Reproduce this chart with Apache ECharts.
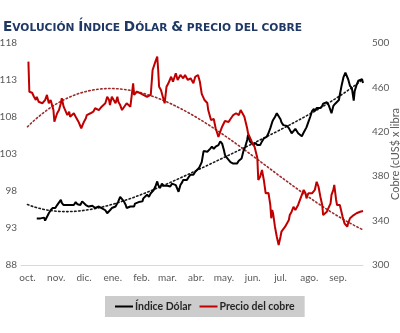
<!DOCTYPE html>
<html><head><meta charset="utf-8">
<script src="https://cdn.jsdelivr.net/npm/echarts@6/dist/echarts.min.js"></script>
<style>html,body{margin:0;padding:0;background:#fff}#c{width:400px;height:333px}</style>
</head><body><div id="c"></div>
<script>
// x values: days since 2021-10-01
const monthLabels = ['oct.','nov.','dic.','ene.','feb.','mar.','abr.','may.','jun.','jul.','ago.','sep.'];
const monthStartDays = [0,31,61,92,123,151,182,212,243,273,304,335];

const dollarDays = [10,12,14,16,18,19,21,23,25,27,28,30,32,34,36,37,39,41,43,45,46,48,50,52,54,55,57,59,61,63,64,66,68,70,71,73,75,77,79,80,82,84,86,88,89,91,93,95,97,98,100,102,104,106,107,109,111,113,115,116,118,120,122,124,125,127,129,131,133,134,136,138,140,141,143,145,147,149,151,152,154,156,158,160,161,163,165,167,168,170,172,174,176,177,179,181,183,185,186,188,190,192,194,195,197,199,201,203,204,206,208,210,212,213,215,217,219,221,222,224,226,228,230,231,233,235,237,238,240,242,244,246,248,249,251,253,255,257,258,260,262,264,265,267,269,271,273,274,276,278,280,282,283,285,287,289,291,292,294,296,298,300,301,303,305,307,309,310,312,314,316,318,319,321,323,325,327,328,330,332,334,336,337,339,341,343,345,346,348,350,352,353,355,357,359,361,362];
const dollarValues = [94.3,94.1,94.3,94.2,94.4,94.0,94.0,95.0,95.4,95.7,95.9,95.7,96.1,96.3,96.8,96.4,96.1,96.3,96.1,96.3,96.1,96.3,96.1,96.5,96.2,96.3,96.1,96.6,96.5,96.1,95.9,95.9,95.9,96.0,95.9,95.7,95.9,95.9,95.9,95.7,95.7,95.4,95.0,95.2,95.4,95.7,95.7,95.9,96.1,96.6,97.2,97.0,96.6,96.1,95.7,95.7,95.9,95.7,95.9,96.3,96.1,96.5,96.4,96.6,97.0,96.8,97.5,97.2,97.7,97.5,98.1,98.6,99.3,98.8,98.4,99.0,98.7,98.6,98.7,98.6,98.6,99.0,98.8,98.8,98.6,97.9,98.8,99.2,99.5,99.7,99.5,99.9,100.2,100.4,100.2,100.6,100.8,101.1,101.1,101.9,103.4,103.5,103.3,103.3,103.7,104.0,103.7,104.0,104.0,104.2,104.7,104.4,103.5,102.9,102.5,102.2,101.9,101.7,101.7,101.9,101.7,102.1,102.2,102.4,103.4,104.0,104.9,105.6,104.7,104.5,104.2,104.5,104.2,104.0,104.2,104.7,105.1,105.3,105.3,105.8,106.5,107.3,107.6,108.0,108.5,108.1,107.7,107.3,106.9,106.8,106.8,106.5,106.5,105.8,105.7,106.4,106.4,105.8,105.9,105.4,105.9,106.0,106.6,107.3,108.0,108.8,109.1,108.8,109.2,109.2,109.2,109.5,109.8,110.0,110.0,109.6,109.6,108.5,109.5,109.8,109.6,110.3,111.0,112.3,113.4,114.0,114.1,113.1,112.2,111.9,110.2,111.5,112.3,112.9,113.1,113.1,112.6];

const copperDays = [1,2,3,5,7,9,10,12,14,16,18,19,21,23,25,27,28,29,32,34,36,37,39,41,43,45,46,48,50,52,54,55,57,58,61,63,64,66,68,70,71,73,75,77,79,80,82,84,86,88,89,91,93,95,97,98,100,102,104,107,111,114,115,118,122,125,129,133,135,138,140,141,142,144,146,148,150,152,155,157,160,162,165,168,170,173,176,179,181,184,186,188,191,194,195,198,201,203,204,206,208,210,212,213,215,217,219,221,222,225,228,230,232,234,237,238,240,242,245,248,249,251,253,255,257,258,260,262,263,264,265,267,269,271,273,274,276,278,280,282,283,285,287,289,291,292,294,296,298,300,301,303,305,307,309,310,312,314,316,318,319,321,323,325,327,328,330,331,333,334,337,339,340,342,343,345,346,348,350,352,353,355,357,359,361,362];
const copperValues = [483.2,456.1,454.7,455.2,451.6,448.6,451.6,447.1,448.6,445.7,444.1,448.6,453.2,445.7,448.6,442.6,439.6,429.1,436.7,439.6,445.7,450.2,442.6,441.2,435.1,438.1,433.6,435.1,436.7,433.6,432.2,429.1,430.6,423.2,429.1,432.2,435.1,435.1,436.7,438.1,438.1,441.2,439.6,439.6,438.1,442.6,441.2,445.7,451.6,448.6,444.1,451.6,448.6,445.7,451.6,447.1,444.1,439.6,438.1,445.7,442.6,463.7,453.2,456.1,454.7,453.2,451.6,453.2,475.7,483.2,487.7,475.7,460.6,457.7,451.6,445.7,460.6,463.7,469.6,465.1,472.7,466.7,471.2,468.2,471.2,466.7,468.2,463.7,469.6,471.2,465.1,454.1,448.6,445.9,439.6,430.6,431.5,423.2,420.7,415.3,420.1,424.6,423.4,429.7,430.6,428.8,431.5,432.2,435.1,436.7,435.1,439.6,438.1,433.6,423.2,418.6,417.1,411.1,406.6,396.4,376.6,379.5,385.6,376.6,364.6,363.1,364.9,354.1,342.1,349.6,346.6,334.5,325.5,318.0,325.5,330.0,331.5,334.5,333.3,340.5,345.0,348.0,352.5,349.6,348.0,354.1,358.6,363.1,367.6,364.6,360.1,364.6,363.1,364.6,366.0,367.6,375.0,370.5,361.5,354.1,345.0,346.6,348.0,349.6,355.6,363.1,367.6,372.1,358.6,354.1,354.1,352.5,343.5,337.6,337.6,334.5,337.6,342.1,340.5,345.0,343.5,346.6,345.0,348.0,349.6,348.6];

const leftAxisRange = [88, 118, 5];
const rightAxisRange = [300, 500, 40];
const seriesNames = ['Índice Dólar', 'Precio del cobre'];
const trendOrders = [4, 3]; // polynomial trendline orders (dólar, cobre)

// Polynomial least-squares trend line, as in the original's trendlines
function polyfit(xs, ys, order) {
  const n = order + 1, A = [], b = [];
  for (let i = 0; i < n; i++) { A.push(new Array(n).fill(0)); b.push(0); }
  xs.forEach((x0, k) => {
    const x = x0 / 365;
    for (let i = 0; i < n; i++) {
      b[i] += ys[k] * Math.pow(x, i);
      for (let j = 0; j < n; j++) A[i][j] += Math.pow(x, i + j);
    }
  });
  for (let c = 0; c < n; c++) {
    let p = c;
    for (let r = c + 1; r < n; r++) if (Math.abs(A[r][c]) > Math.abs(A[p][c])) p = r;
    [A[c], A[p]] = [A[p], A[c]]; [b[c], b[p]] = [b[p], b[c]];
    for (let r = c + 1; r < n; r++) {
      const f = A[r][c] / A[c][c];
      for (let j = c; j < n; j++) A[r][j] -= f * A[c][j];
      b[r] -= f * b[c];
    }
  }
  const coef = new Array(n).fill(0);
  for (let r = n - 1; r >= 0; r--) {
    let s = b[r];
    for (let j = r + 1; j < n; j++) s -= A[r][j] * coef[j];
    coef[r] = s / A[r][r];
  }
  return coef;
}
function trendPoints(xs, ys, order, from, to) {
  const c = polyfit(xs, ys, order), out = [];
  for (let d = from; d <= to; d += 2) {
    const x = d / 365;
    out.push([d, c.reduce((s, v, i) => s + v * Math.pow(x, i), 0)]);
  }
  return out;
}

const font = "Lato, 'Liberation Sans', sans-serif";
const chart = echarts.init(document.getElementById('c'), null, {renderer: 'canvas'});
chart.setOption({
  animation: false,
  backgroundColor: '#fff',
  title: {
    left: 3, top: 18, padding: 0,
    text: '{b|E}{s|VOLUCIÓN }{b|Í}{s|NDICE }{b|D}{s|ÓLAR }{b|&}{s| PRECIO DEL COBRE}',
    textStyle: {
      rich: {
        b: {fontSize: 13.6, fontWeight: 'bold', fontFamily: 'DejaVu Sans', color: '#1F3864', verticalAlign: 'bottom', lineHeight: 16},
        s: {fontSize: 10.7, fontWeight: 'bold', fontFamily: 'DejaVu Sans', color: '#1F3864', verticalAlign: 'bottom', lineHeight: 16}
      }
    }
  },
  grid: {left: 21, right: 37, top: 43, bottom: 68, containLabel: false, outerBoundsMode: 'none'},
  legend: {
    data: seriesNames,
    left: 105, bottom: 16,
    backgroundColor: '#cccccc',
    padding: [5, 10],
    itemWidth: 18, itemHeight: 2, itemGap: 8,
    icon: 'rect',
    textStyle: {fontFamily: font, fontSize: 10.5, fontWeight: 'bold', color: '#262626', padding: [0, 0, 0, -3]}
  },
  xAxis: {
    type: 'value', min: -7, max: 362,
    splitLine: {show: false},
    axisTick: {show: false},
    axisLine: {show: true, onZero: false, lineStyle: {color: '#d9d9d9', width: 1}},
    axisLabel: {
      customValues: monthStartDays,
      formatter: v => monthLabels[monthStartDays.indexOf(v)] || '',
      fontFamily: font, fontSize: 10, color: '#595959', margin: 8
    }
  },
  yAxis: [{
    type: 'value', position: 'left',
    min: leftAxisRange[0], max: leftAxisRange[1], interval: leftAxisRange[2],
    splitLine: {show: false}, axisTick: {show: false}, axisLine: {show: false},
    axisLabel: {fontFamily: font, fontSize: 10, color: '#595959', margin: 4}
  }, {
    type: 'value', position: 'right',
    min: rightAxisRange[0], max: rightAxisRange[1], interval: rightAxisRange[2],
    splitLine: {show: false}, axisTick: {show: false}, axisLine: {show: false},
    axisLabel: {fontFamily: font, fontSize: 10, color: '#595959', margin: 9},
    name: 'Cobre (cUS$ x libra', nameLocation: 'middle', nameRotate: 90, nameGap: 27,
    nameMoveOverlap: false,
    nameTextStyle: {fontFamily: font, fontSize: 11, color: '#595959'}
  }],
  series: [{
    name: 'trend-dollar', type: 'line', yAxisIndex: 0, silent: true, showSymbol: false, z: 2,
    data: trendPoints(dollarDays, dollarValues, trendOrders[0], 0, 362),
    lineStyle: {color: '#1a1a1a', width: 1.6, type: [1.5, 2.5], cap: 'round'}
  }, {
    name: 'trend-copper', type: 'line', yAxisIndex: 1, silent: true, showSymbol: false, z: 2,
    data: trendPoints(copperDays, copperValues, trendOrders[1], 0, 362),
    lineStyle: {color: '#9b2a2a', width: 1.6, type: [1.5, 2.5], cap: 'round'}
  }, {
    name: seriesNames[0], type: 'line', yAxisIndex: 0, showSymbol: false, z: 3,
    color: '#000000',
    data: dollarDays.map((d, i) => [d, dollarValues[i]]),
    lineStyle: {color: '#000000', width: 2}
  }, {
    name: seriesNames[1], type: 'line', yAxisIndex: 1, showSymbol: false, z: 4,
    color: '#C00000',
    data: copperDays.map((d, i) => [d, copperValues[i]]),
    lineStyle: {color: '#C00000', width: 2}
  }]
});
</script></body></html>
